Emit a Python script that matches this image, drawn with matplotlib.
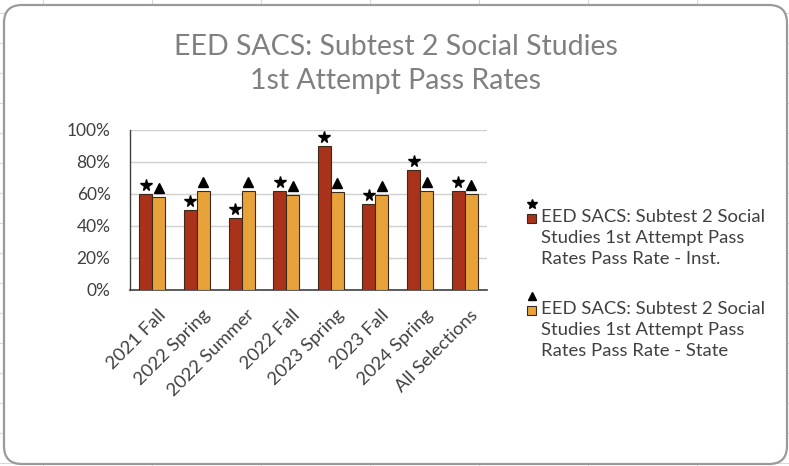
import matplotlib
matplotlib.use("Agg")
import matplotlib.pyplot as plt
import matplotlib.transforms as mtransforms
from matplotlib.patches import FancyBboxPatch, Rectangle
from matplotlib.lines import Line2D
import numpy as np

categories = ["2021 Fall", "2022 Spring", "2022 Summer", "2022 Fall",
              "2023 Spring", "2023 Fall", "2024 Spring", "All Selections"]
inst_values = [60, 50, 45, 62, 90, 54, 75, 62]
state_values = [58, 62, 62, 59.5, 61, 59.5, 62, 60]
series_names = ["EED SACS: Subtest 2 Social\nStudies 1st Attempt Pass\nRates Pass Rate - Inst.",
                "EED SACS: Subtest 2 Social\nStudies 1st Attempt Pass\nRates Pass Rate - State"]
y_ticks = [0, 20, 40, 60, 80, 100]
y_tick_labels = ["0%", "20%", "40%", "60%", "80%", "100%"]
title_text = "EED SACS: Subtest 2 Social Studies\n1st Attempt Pass Rates"

INST_COLOR = "#A9321A"
STATE_COLOR = "#E8A23A"
EDGE = "#3b2a1c"
TEXT = "#404040"
FONT = "Lato"

W, H = 789, 466
fig = plt.figure(figsize=(W / 100, H / 100), dpi=100)
fig.patch.set_facecolor("white")

def fx(x):
    return x / W

def fy(y):
    return 1 - y / H

# faint spreadsheet grid behind the chart object
for cx in [43, 152, 261, 370, 479, 588, 697]:
    fig.add_artist(Line2D([fx(cx), fx(cx)], [0, 1], color="#d9d9d9", lw=0.8, zorder=0))
for ry in range(13, 466, 30):
    fig.add_artist(Line2D([0, 1], [fy(ry), fy(ry)], color="#d9d9d9", lw=0.8, zorder=0))

# rounded chart frame (in inches -> circular corners)
frame = FancyBboxPatch((4 / 100, (H - 464) / 100), (787 - 4) / 100, (464 - 5) / 100,
                       boxstyle="round,pad=0,rounding_size=0.18",
                       transform=fig.dpi_scale_trans, facecolor="white",
                       edgecolor="#9a9a9a", lw=1.6, zorder=1)
fig.add_artist(frame)

ax = fig.add_axes([fx(130), fy(290), fx(487) - fx(130), fy(130) - fy(290)])
ax.set_zorder(2)
ax.patch.set_alpha(0)

x = np.arange(len(categories))
bw = 0.29
ax.bar(x - bw / 2, inst_values, bw, color=INST_COLOR, edgecolor=EDGE, lw=0.8, zorder=3)
ax.bar(x + bw / 2, state_values, bw, color=STATE_COLOR, edgecolor=EDGE, lw=0.8, zorder=3)

off = mtransforms.offset_copy(ax.transData, fig=fig, x=0, y=9, units="dots")
ax.plot(x - bw / 2, inst_values, linestyle="none", marker="*", markersize=8.5,
        color="black", transform=off, zorder=4, clip_on=False)
ax.plot(x + bw / 2, state_values, linestyle="none", marker="^", markersize=6.8,
        color="black", transform=off, zorder=4, clip_on=False)

ax.set_xlim(-0.5, len(categories) - 0.5)
ax.set_ylim(0, 100)
ax.set_yticks(y_ticks)
ax.set_yticklabels(y_tick_labels, fontsize=12.5, color=TEXT, family=FONT)
ax.yaxis.grid(True, color="#d0d0d0", lw=1)
ax.set_axisbelow(True)
ax.tick_params(axis="y", length=0, pad=14)
ax.tick_params(axis="x", length=0, pad=12)
ax.set_xticks(x)
ax.set_xticklabels(categories, rotation=45, ha="right", va="top",
                   rotation_mode="anchor", fontsize=13.3, color=TEXT, family=FONT)
shift = mtransforms.ScaledTranslation(5 / 100, 0, fig.dpi_scale_trans)
for lab in ax.get_xticklabels():
    lab.set_transform(lab.get_transform() + shift)
for s in ["top", "right"]:
    ax.spines[s].set_visible(False)
ax.spines["left"].set_color("#404040")
ax.spines["bottom"].set_color("#404040")
ax.spines["left"].set_linewidth(1)
ax.spines["bottom"].set_linewidth(1.2)

fig.text(fx(396), fy(64), title_text, ha="center", va="center", fontsize=20.5,
         color="#808080", family=FONT, linespacing=1.4, zorder=3)

# legend
legend_colors = [INST_COLOR, STATE_COLOR]
legend_markers = ["*", "^"]
legend_line1 = [219, 311]
for name, col, mk, c in zip(series_names, legend_colors, legend_markers, legend_line1):
    fig.add_artist(Rectangle((fx(527), fy(c + 4)), fx(9), fy(0) - fy(9),
                             facecolor=col, edgecolor=EDGE, lw=0.8, zorder=3,
                             transform=fig.transFigure))
    fig.add_artist(Line2D([fx(531.5)], [fy(c - 15)], marker=mk, linestyle="none",
                          markersize=7.5 if mk == "*" else 6, color="black", zorder=3))
    fig.text(fx(541), fy(c - 10), name, ha="left", va="top", fontsize=13.3,
             color=TEXT, family=FONT, linespacing=1.38, zorder=3)

fig.savefig("out.png", dpi=100)
